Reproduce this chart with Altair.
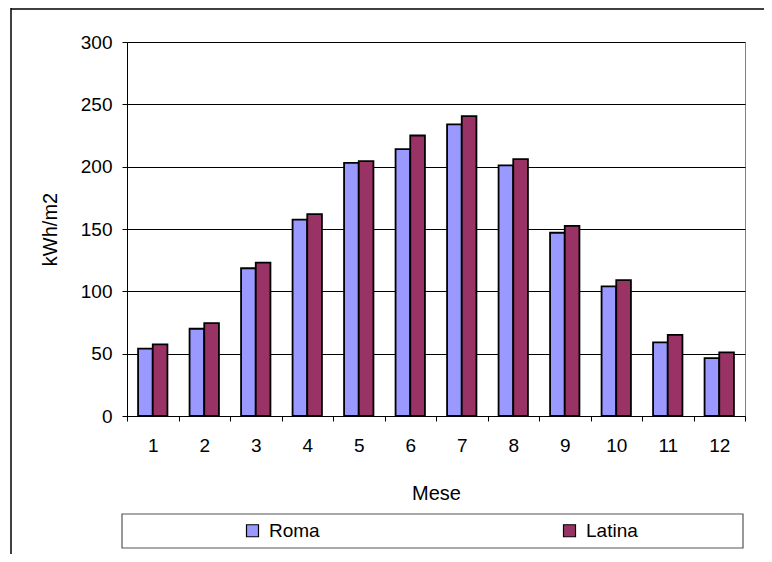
import altair as alt
import pandas as pd

months = [1, 2, 3, 4, 5, 6, 7, 8, 9, 10, 11, 12]
series = ["Roma", "Latina"]
roma = [54, 70, 118.5, 157.5, 203, 214, 234, 201, 147, 104, 59, 46.5]
latina = [57.5, 74.5, 123, 162, 204.5, 225, 240.5, 206, 152.5, 109, 65, 51]
colors = ["#9999FF", "#993366"]
y_ticks = [0, 50, 100, 150, 200, 250, 300]

rows = []
for m, r, l in zip(months, roma, latina):
    rows.append({"Mese": m, "Città": "Roma", "kWh": r})
    rows.append({"Mese": m, "Città": "Latina", "kWh": l})
df = pd.DataFrame(rows)

FONT = "Liberation Sans"
W, H = 618, 374
LFS = 19
TFS = 20

bars = alt.Chart(df).mark_bar(stroke="black", strokeWidth=1.8, opacity=1).encode(
    x=alt.X(
        "Mese:O",
        title="Mese",
        scale=alt.Scale(paddingInner=0, paddingOuter=0),
        axis=alt.Axis(
            tickBand="extent",
            labelAngle=0,
            labelFontSize=LFS,
            labelFont=FONT,
            labelColor="black",
            labelPadding=15,
            tickSize=5,
            tickColor="black",
            domainColor="black",
            grid=False,
            titleFont=FONT,
            titleFontSize=TFS,
            titleFontWeight="normal",
            titleColor="black",
            titleX=W / 2,
            titleY=77,
            titleAlign="center",
            titleBaseline="middle",
        ),
    ),
    xOffset=alt.XOffset(
        "Città:N",
        sort=series,
        scale=alt.Scale(domain=series, paddingOuter=0.754, paddingInner=0),
    ),
    y=alt.Y(
        "kWh:Q",
        title="kWh/m2",
        scale=alt.Scale(domain=[0, 300], nice=False),
        axis=alt.Axis(
            values=y_ticks,
            labelFontSize=LFS,
            labelFont=FONT,
            labelColor="black",
            labelPadding=10,
            tickSize=5,
            tickColor="black",
            domainColor="black",
            grid=True,
            gridColor="black",
            gridWidth=1,
            titleFont=FONT,
            titleFontSize=TFS,
            titleFontWeight="normal",
            titleColor="black",
            titleX=-77,
            titleY=H / 2,
            titleAngle=-90,
            titleAlign="center",
            titleBaseline="middle",
        ),
    ),
    color=alt.Color(
        "Città:N",
        sort=series,
        scale=alt.Scale(domain=series, range=colors),
        legend=alt.Legend(
            title=None,
            orient="none",
            legendX=116,
            legendY=479,
            direction="horizontal",
            columns=2,
            columnPadding=240,
            padding=0,
            symbolType="square",
            symbolSize=144,
            symbolStrokeColor="black",
            symbolStrokeWidth=1.2,
            symbolOpacity=1,
            labelFont=FONT,
            labelFontSize=LFS,
            labelColor="black",
            labelOffset=7,
        ),
    ),
)

one = alt.Data(values=[{}])

legend_box = alt.Chart(one).mark_rect(fill="white", stroke="#555555", strokeWidth=1.2).encode(
    x=alt.value(-5), x2=alt.value(616), y=alt.value(472), y2=alt.value(506)
)

frame_top = alt.Chart(one).mark_rule(color="black", strokeWidth=1.5).encode(
    x=alt.value(-116), x2=alt.value(640), y=alt.value(-33)
)
frame_left = alt.Chart(one).mark_rule(color="black", strokeWidth=1.5).encode(
    x=alt.value(-116), y=alt.value(-34), y2=alt.value(520)
)

chart = (
    alt.layer(legend_box, frame_top, frame_left, bars)
    .properties(
        width=W,
        height=H,
        autosize=alt.AutoSizeParams(type="none"),
        padding={"left": 119, "top": 34, "right": 19, "bottom": 138},
        background="white",
    )
    .configure_view(stroke="#808080", strokeWidth=1)
)

chart.save("out.html", embed_options={"renderer": "svg", "actions": False})
